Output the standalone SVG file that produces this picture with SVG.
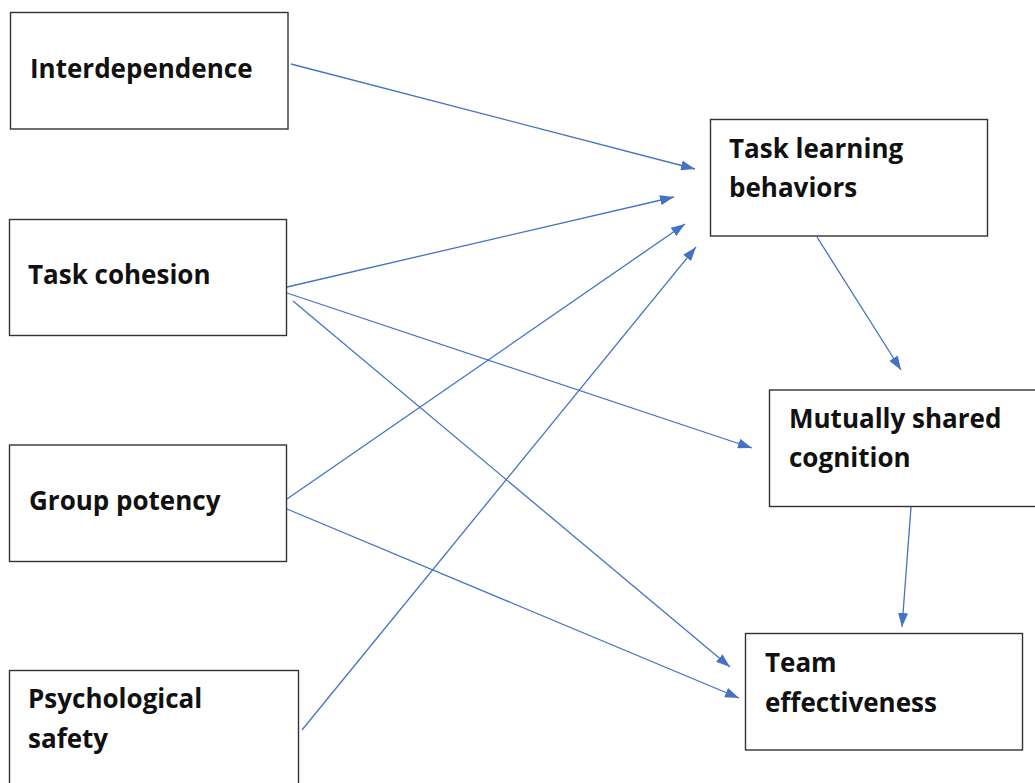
<svg xmlns="http://www.w3.org/2000/svg" width="1035" height="783" viewBox="0 0 1035 783">
<defs>
<marker id="ah" viewBox="0 0 14 10" refX="14" refY="5" markerWidth="14" markerHeight="10" markerUnits="userSpaceOnUse" orient="auto">
<path d="M0,0 L14,5 L0,10 Z" fill="#4472C4"/>
</marker>
<style>
.box{fill:#fff;stroke:#333;stroke-width:1.4}
.lbl{font-family:"Open Sans","Liberation Sans",sans-serif;font-weight:bold;font-size:26px;fill:#111}
.con{stroke:#4472C4;stroke-width:1.3;fill:none;marker-end:url(#ah)}
</style>
</defs>
<rect width="1035" height="783" fill="#fff"/>
<g id="connectors">
<line class="con" x1="291" y1="64" x2="695" y2="169"/>
<line class="con" x1="287" y1="287" x2="674" y2="197"/>
<line class="con" x1="287" y1="499" x2="685" y2="224"/>
<line class="con" x1="302" y1="730" x2="696" y2="247"/>
<line class="con" x1="287" y1="293" x2="752" y2="448"/>
<line class="con" x1="293" y1="301" x2="730" y2="667"/>
<line class="con" x1="287" y1="509" x2="739" y2="698"/>
<line class="con" x1="817" y1="237" x2="901" y2="370"/>
<line class="con" x1="911" y1="507" x2="902" y2="627"/>
</g>
<g id="interdependence">
<rect class="box" x="10.5" y="12.5" width="277.5" height="116.5"/>
<text class="lbl" x="30" y="78">Interdependence</text>
</g>
<g id="task-cohesion">
<rect class="box" x="9.5" y="219.5" width="277" height="116"/>
<text class="lbl" x="28" y="284">Task cohesion</text>
</g>
<g id="group-potency">
<rect class="box" x="9.5" y="445" width="277" height="116.5"/>
<text class="lbl" x="29" y="510">Group potency</text>
</g>
<g id="psychological-safety">
<rect class="box" x="9.5" y="670.5" width="289" height="120"/>
<text class="lbl" x="28" y="708">Psychological</text>
<text class="lbl" x="28" y="748">safety</text>
</g>
<g id="task-learning-behaviors">
<rect class="box" x="710.5" y="119.5" width="277" height="116.5"/>
<text class="lbl" x="729" y="158">Task learning</text>
<text class="lbl" x="729" y="197">behaviors</text>
</g>
<g id="mutually-shared-cognition">
<rect class="box" x="769.5" y="390" width="277" height="116.5"/>
<text class="lbl" x="789" y="428">Mutually shared</text>
<text class="lbl" x="789" y="467">cognition</text>
</g>
<g id="team-effectiveness">
<rect class="box" x="745.5" y="633.5" width="277" height="116.5"/>
<text class="lbl" x="765" y="672">Team</text>
<text class="lbl" x="765" y="712">effectiveness</text>
</g>
</svg>
